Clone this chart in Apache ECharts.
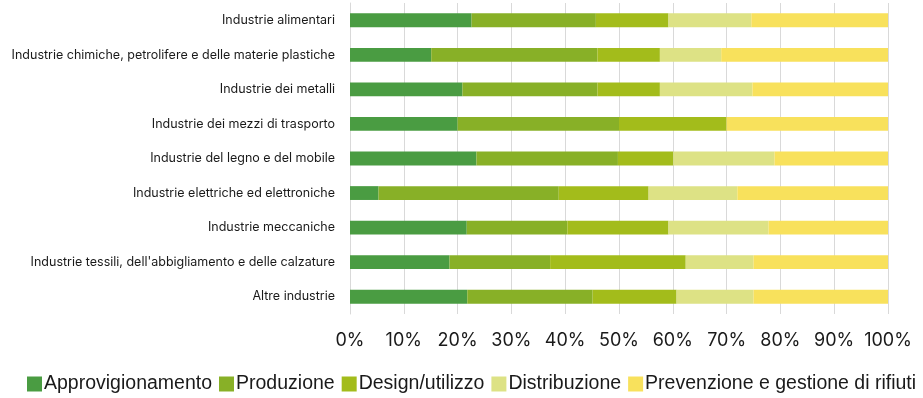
<!DOCTYPE html>
<html>
<head>
<meta charset="utf-8">
<script src="https://cdn.jsdelivr.net/npm/echarts@6/dist/echarts.min.js"></script>
<style>
  html, body { margin: 0; padding: 0; background: #fff; }
  #chart { width: 923px; height: 398px; }
</style>
</head>
<body>
<div id="chart"></div>
<script>
// Sectors, top to bottom
const categories = [
  'Industrie alimentari',
  'Industrie chimiche, petrolifere e delle materie plastiche',
  'Industrie dei metalli',
  'Industrie dei mezzi di trasporto',
  'Industrie del legno e del mobile',
  'Industrie elettriche ed elettroniche',
  'Industrie meccaniche',
  "Industrie tessili, dell'abbigliamento e delle calzature",
  'Altre industrie'
];

// Share (%) of each phase per sector
const approvvigionamento = [22.6, 15.1, 20.9, 20.0, 23.5, 5.3, 21.7, 18.5, 21.8];
const produzione         = [23.1, 30.9, 25.1, 30.0, 26.3, 33.5, 18.7, 18.7, 23.3];
const designUtilizzo     = [13.5, 11.6, 11.6, 20.0, 10.3, 16.7, 18.8, 25.2, 15.6];
const distribuzione      = [15.4, 11.4, 17.2, 0.0, 18.8, 16.5, 18.6, 12.6, 14.3];
const prevenzione        = [25.4, 31.0, 25.2, 30.0, 21.1, 28.0, 22.2, 25.0, 25.0];

const seriesNames = ['Approvigionamento', 'Produzione', 'Design/utilizzo', 'Distribuzione', 'Prevenzione e gestione di rifiuti'];
const seriesData = [approvvigionamento, produzione, designUtilizzo, distribuzione, prevenzione];
const colors = ['#4a9c42', '#88b027', '#a3bc1b', '#dde285', '#f8e15c'];

const xTicks = [0, 10, 20, 30, 40, 50, 60, 70, 80, 90, 100];

const chart = echarts.init(document.getElementById('chart'), null, { renderer: 'canvas' });
chart.setOption({
  animation: false,
  color: colors,
  grid: { left: 350, right: 35, top: 3, bottom: 84, containLabel: false },
  legend: {
    bottom: 4,
    left: 27,
    width: 896,
    padding: 0,
    itemWidth: 15,
    itemHeight: 15,
    itemGap: 7,
    icon: 'rect',
    textStyle: { fontFamily: 'Liberation Sans', fontSize: 19.5, color: '#1a1a1a', padding: [0, 0, 0, -3] },
    data: seriesNames
  },
  xAxis: {
    type: 'value',
    min: xTicks[0],
    max: xTicks[xTicks.length - 1],
    interval: 10,
    axisLine: { show: false },
    axisTick: { show: false },
    splitLine: { lineStyle: { color: '#d9d9d9', width: 1 } },
    axisLabel: {
      formatter: v => v + '%',
      fontFamily: 'Inter',
      fontSize: 18,
      color: '#1a1a1a',
      margin: 18
    }
  },
  yAxis: {
    type: 'category',
    data: categories,
    inverse: true,
    axisLine: { show: true, lineStyle: { color: '#d9d9d9' } },
    axisTick: { show: false },
    axisLabel: {
      fontFamily: 'Inter',
      fontSize: 12.5,
      color: '#1a1a1a',
      margin: 15
    }
  },
  series: seriesNames.map((name, i) => ({
    name,
    type: 'bar',
    stack: 'total',
    barWidth: '40%',
    data: seriesData[i]
  }))
});
</script>
</body>
</html>
